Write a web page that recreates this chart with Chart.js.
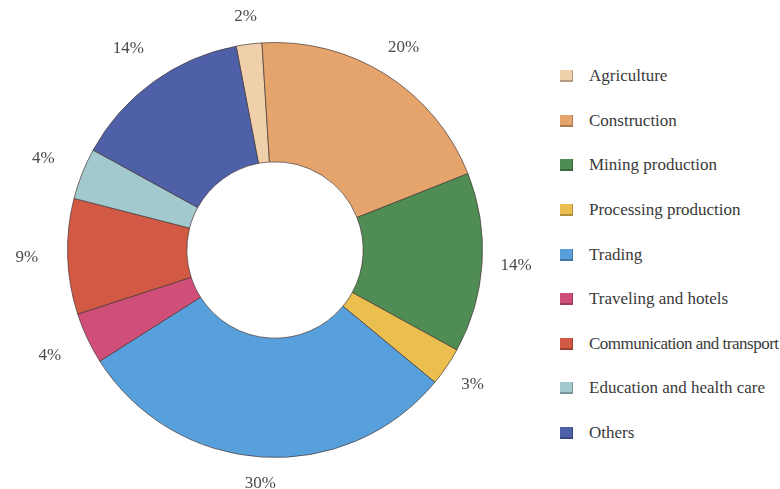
<!DOCTYPE html>
<html>
<head>
<meta charset="utf-8">
<script src="https://cdn.jsdelivr.net/npm/chart.js@4.4.1/dist/chart.umd.min.js"></script>
<style>
  html, body { margin: 0; padding: 0; background: #fff; }
  #wrap { position: relative; width: 780px; height: 489px; overflow: hidden; }
  #grafico { position: absolute; left: 0; top: 0; width: 552px; height: 489px; }
  #leyenda {
    position: absolute; left: 560px; top: 54px;
    margin: 0; padding: 0; list-style: none;
    font-family: "Times New Roman", "Liberation Serif", Times, serif;
    font-size: 17px; color: #3a3a3a; white-space: nowrap;
  }
  #leyenda li { height: 44.6px; display: flex; align-items: center; }
  #leyenda .caja {
    width: 13px; height: 12px; margin-right: 16px; flex: none;
    box-shadow: inset -1px -2px 0 rgba(0,0,0,0.25);
  }
  #leyenda li.estrecho span { letter-spacing: -0.5px; }
</style>
</head>
<body>
<div id="wrap">
  <div id="grafico"><canvas id="miGraficoCircular"></canvas></div>
  <ul id="leyenda"></ul>
</div>
<script>
// Sectores y su participación en porcentaje
var sectores = [
  'Agriculture',
  'Construction',
  'Mining production',
  'Processing production',
  'Trading',
  'Traveling and hotels',
  'Communication and transport',
  'Education and health care',
  'Others'
];
var porcentajes = [2, 20, 14, 3, 30, 4, 9, 4, 14];
var colores = [
  '#f0d0ab',
  '#e4a46c',
  '#4f8d54',
  '#eabf50',
  '#58a0dc',
  '#d04f79',
  '#d25943',
  '#a2c9ce',
  '#4d60a8'
];

// Leyenda en HTML a partir de los mismos arreglos
var lista = document.getElementById('leyenda');
sectores.forEach(function (nombre, i) {
  var li = document.createElement('li');
  if (nombre.length > 25) li.className = 'estrecho';
  var caja = document.createElement('div');
  caja.className = 'caja';
  caja.style.background = colores[i];
  var texto = document.createElement('span');
  texto.textContent = nombre;
  li.appendChild(caja);
  li.appendChild(texto);
  lista.appendChild(li);
});

// Etiquetas de porcentaje por fuera de cada sector
var etiquetasExternas = {
  id: 'etiquetasExternas',
  afterDatasetsDraw: function (chart) {
    var ctx = chart.ctx;
    var arcos = chart.getDatasetMeta(0).data;
    ctx.save();
    ctx.font = '17px "Times New Roman", "Liberation Serif", Times, serif';
    ctx.fillStyle = '#4a4a4a';
    ctx.textAlign = 'center';
    ctx.textBaseline = 'middle';
    arcos.forEach(function (arco, i) {
      var p = arco.getProps(['x', 'y', 'startAngle', 'endAngle', 'outerRadius'], true);
      var medio = (p.startAngle + p.endAngle) / 2;
      var texto = porcentajes[i] + '%';
      var mitadAncho = ctx.measureText(texto).width / 2;
      var cos = Math.cos(medio), sin = Math.sin(medio);
      // del lado izquierdo las etiquetas quedan algo más separadas
      var extra = cos < 0 ? 2 : 1;
      var r = p.outerRadius + 18 + mitadAncho * Math.abs(cos) * extra + 7 * Math.abs(sin);
      ctx.fillText(texto, p.x + cos * r, p.y + sin * r);
    });
    ctx.restore();
  }
};

var configuracion = {
  type: 'doughnut',
  data: {
    labels: sectores,
    datasets: [{
      data: porcentajes,
      backgroundColor: colores,
      borderColor: 'rgba(70, 55, 55, 0.7)',
      borderWidth: 1
    }]
  },
  options: {
    responsive: true,
    maintainAspectRatio: false,
    animation: false,
    cutout: '42.5%',
    rotation: -10.8,
    layout: { padding: { left: 67, right: 69, top: 42, bottom: 31 } },
    plugins: {
      legend: { display: false },
      tooltip: { enabled: false }
    }
  },
  plugins: [etiquetasExternas]
};

var contexto = document.getElementById('miGraficoCircular').getContext('2d');
var miGraficoCircular = new Chart(contexto, configuracion);
</script>
</body>
</html>
